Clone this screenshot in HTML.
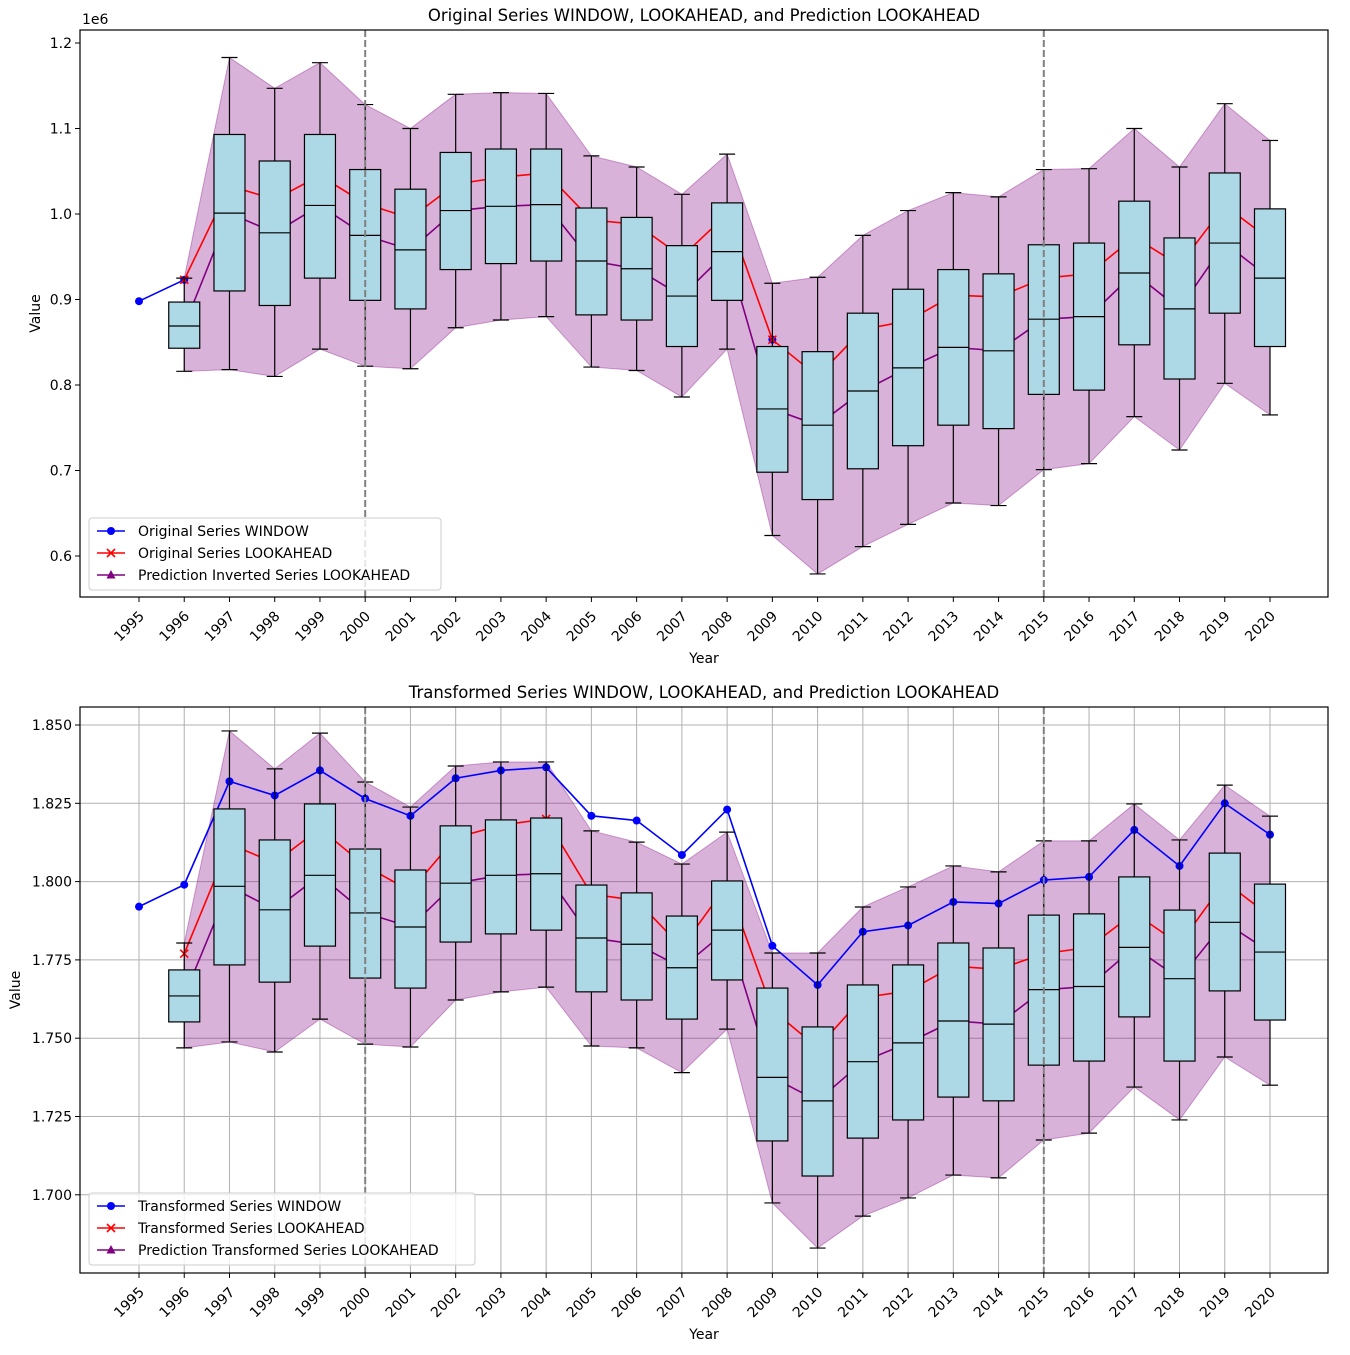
<!DOCTYPE html>
<html><head><meta charset="utf-8"><style>
body{margin:0;background:#fff;font-family:"Liberation Sans","DejaVu Sans",sans-serif}
svg text{font-family:"DejaVu Sans","Liberation Sans",sans-serif}
</style></head><body>
<svg id="c" width="1350" height="1350" viewBox="0 0 1350 1350" xmlns="http://www.w3.org/2000/svg"></svg>
<script>
const years=[1995,1996,1997,1998,1999,2000,2001,2002,2003,2004,2005,2006,2007,2008,2009,2010,2011,2012,2013,2014,2015,2016,2017,2018,2019,2020];
const topWindow=[0.898,0.923];
const topWindowExtra=[[2009,0.853]];
const topLook=[0.923,1.033,1.017,1.045,1.012,0.995,1.035,1.043,1.048,0.993,0.988,0.950,1.0,0.853,0.81,0.865,0.875,0.905,0.903,0.925,0.930,0.973,0.940,1.010,0.970];
const topMed=[0.869,1.001,0.978,1.010,0.975,0.958,1.004,1.009,1.011,0.945,0.936,0.904,0.956,0.772,0.753,0.793,0.820,0.844,0.840,0.877,0.880,0.931,0.889,0.966,0.925];
const topQ1=[0.843,0.910,0.893,0.925,0.899,0.889,0.935,0.942,0.945,0.882,0.876,0.845,0.899,0.698,0.666,0.702,0.729,0.753,0.749,0.789,0.794,0.847,0.807,0.884,0.845];
const topQ3=[0.897,1.093,1.062,1.093,1.052,1.029,1.072,1.076,1.076,1.007,0.996,0.963,1.013,0.845,0.839,0.884,0.912,0.935,0.930,0.964,0.966,1.015,0.972,1.048,1.006];
const topLo=[0.816,0.818,0.810,0.842,0.822,0.819,0.867,0.876,0.880,0.821,0.817,0.786,0.842,0.624,0.579,0.611,0.637,0.662,0.659,0.701,0.708,0.763,0.724,0.802,0.765];
const topHi=[0.925,1.183,1.147,1.177,1.128,1.100,1.140,1.142,1.141,1.068,1.055,1.023,1.070,0.919,0.926,0.975,1.004,1.025,1.020,1.052,1.053,1.100,1.055,1.129,1.086];
const topTicks=[0.6,0.7,0.8,0.9,1.0,1.1,1.2];
const topTickLabels=["0.6","0.7","0.8","0.9","1.0","1.1","1.2"];
const botWindow=[1.792,1.799,1.832,1.8275,1.8355,1.8265,1.821,1.833,1.8355,1.8365,1.821,1.8195,1.8085,1.823,1.7795,1.767,1.784,1.786,1.7935,1.793,1.8005,1.8015,1.8165,1.805,1.825,1.815];
const botLook=[1.777,1.812,1.806,1.817,1.805,1.797,1.814,1.818,1.820,1.796,1.794,1.779,1.799,1.759,1.747,1.763,1.765,1.773,1.772,1.777,1.779,1.790,1.780,1.800,1.789];
const botMed=[1.7635,1.7985,1.791,1.802,1.790,1.7855,1.7995,1.802,1.8025,1.782,1.780,1.7725,1.7845,1.7375,1.730,1.7425,1.7485,1.7555,1.7545,1.7655,1.7665,1.779,1.769,1.787,1.7775];
const botQ1=[1.7552,1.7734,1.7679,1.7794,1.7692,1.766,1.7807,1.7833,1.7845,1.7648,1.7622,1.7561,1.7686,1.7172,1.706,1.7181,1.7239,1.7312,1.730,1.7414,1.7427,1.7568,1.7427,1.7651,1.7558];
const botQ3=[1.7718,1.8232,1.8133,1.8248,1.8104,1.8037,1.8178,1.8197,1.8203,1.7989,1.7964,1.789,1.8002,1.766,1.7536,1.767,1.7734,1.7804,1.7788,1.7893,1.7897,1.8015,1.7909,1.8091,1.7992];
const botLo=[1.7469,1.7488,1.7456,1.7561,1.7481,1.7472,1.7622,1.7648,1.7663,1.7475,1.7469,1.739,1.7529,1.6974,1.683,1.6932,1.699,1.7063,1.7054,1.7175,1.7197,1.7344,1.7239,1.744,1.735];
const botHi=[1.7804,1.8481,1.836,1.8474,1.8318,1.8238,1.8369,1.8382,1.8382,1.8162,1.8126,1.8056,1.8158,1.7772,1.7772,1.7919,1.7983,1.805,1.8031,1.813,1.813,1.8248,1.8133,1.8308,1.8209];
const botTicks=[1.700,1.725,1.750,1.775,1.800,1.825,1.850];
const botTickLabels=["1.700","1.725","1.750","1.775","1.800","1.825","1.850"];

const svg=document.getElementById('c');
const NS='http://www.w3.org/2000/svg';
function mk(tag,attrs,parent,txt){const e=document.createElementNS(NS,tag);for(const k in attrs)e.setAttribute(k,attrs[k]);if(txt!==undefined)e.textContent=txt;(parent||svg).appendChild(e);return e;}
const xScale=yr=>139+(yr-1995)*45.24;

function panel(o){
  const g=mk('g',{});
  
  
  const y=v=>o.y0+(o.v1-v)*o.k;
  const L=80,R=1328,T=o.T,B=o.B;
  if(o.grid){
    years.forEach(yr=>{const l=mk('line',{x1:xScale(yr),x2:xScale(yr),y1:T,y2:B,stroke:'#b0b0b0','stroke-width':1},g);});
    o.ticks.forEach(t=>{const l=mk('line',{x1:L,x2:R,y1:y(t),y2:y(t),stroke:'#b0b0b0','stroke-width':1},g);});
  }
  const ly=years.slice(1);
  let pts=ly.map((yr,i)=>xScale(yr)+','+y(o.hi[i])).concat(ly.slice().reverse().map((yr,j)=>xScale(yr)+','+y(o.lo[ly.length-1-j])));
  const band=mk('polygon',{points:pts.join(' '),fill:'rgba(128,0,128,0.3)',stroke:'rgba(128,0,128,0.35)','stroke-width':1},g);
  
  
  function series(xs,vals,color,marker,name){
    const sg=mk('g',{},g);
    
    
    mk('polyline',{points:vals.map((v,i)=>xScale(xs[i])+','+y(v)).join(' '),fill:'none',stroke:color,'stroke-width':1.6},sg);
    vals.forEach((v,i)=>drawMarker(sg,xScale(xs[i]),y(v),color,marker));
  }
  series(years.slice(0,o.win.length),o.win,'#0000ff','o','window-series');
  if(o.winExtra)o.winExtra.forEach(p=>drawMarker(g,xScale(p[0]),y(p[1]),'#0000ff','o'));
  series(ly,o.look,'#ff0000','x','lookahead-series');
  series(ly,o.med,'#800080','^','prediction-series');
  ly.forEach((yr,i)=>{
    const bx=mk('g',{},g);
    
    
    const x=xScale(yr),w=15.5;
    mk('line',{x1:x,x2:x,y1:y(o.hi[i]),y2:y(o.q3[i]),stroke:'#000','stroke-width':1.2},bx);
    mk('line',{x1:x,x2:x,y1:y(o.q1[i]),y2:y(o.lo[i]),stroke:'#000','stroke-width':1.2},bx);
    mk('line',{x1:x-8,x2:x+8,y1:y(o.hi[i]),y2:y(o.hi[i]),stroke:'#000','stroke-width':1.2},bx);
    mk('line',{x1:x-8,x2:x+8,y1:y(o.lo[i]),y2:y(o.lo[i]),stroke:'#000','stroke-width':1.2},bx);
    mk('rect',{x:x-w,y:y(o.q3[i]),width:2*w,height:y(o.q1[i])-y(o.q3[i]),fill:'#add8e6',stroke:'#000','stroke-width':1.2},bx);
    mk('line',{x1:x-w,x2:x+w,y1:y(o.med[i]),y2:y(o.med[i]),stroke:'#000','stroke-width':1.2},bx);
  });
  [2000,2015].forEach(yr=>{const l=mk('line',{x1:xScale(yr),x2:xScale(yr),y1:T,y2:B,stroke:'#808080','stroke-width':2,'stroke-dasharray':'7,3'},g);});
  const fr=mk('rect',{x:L,y:T,width:R-L,height:B-T,fill:'none',stroke:'#000','stroke-width':1.2},g);
  
  o.ticks.forEach((t,i)=>{
    mk('line',{x1:L-5,x2:L,y1:y(t),y2:y(t),stroke:'#000'},g);
    const tl=mk('text',{x:L-8,y:y(t)+5,'text-anchor':'end','font-size':14},g,o.tickLabels[i]);
    
  });
  years.forEach(yr=>{
    const x=xScale(yr);
    mk('line',{x1:x,x2:x,y1:B,y2:B+5,stroke:'#000'},g);
    const tl=mk('text',{x:x+6,y:B+20,'text-anchor':'end','font-size':14,transform:`rotate(-45 ${x+6} ${B+20})`},g,String(yr));
    
  });
  const tt=mk('text',{x:704,y:T-9,'text-anchor':'middle','font-size':16.5},g,o.title);
  
  const xl=mk('text',{x:704,y:B+66,'text-anchor':'middle','font-size':14},g,'Year');
  
  const yl=mk('text',{x:o.ylx,y:(T+B)/2,'text-anchor':'middle','font-size':14,transform:`rotate(-90 ${o.ylx} ${(T+B)/2})`},g,'Value');
  
  if(o.offset){const ot=mk('text',{x:82,y:T-6,'font-size':14},g,o.offset);}
  const lg=mk('g',{},g);
  
  
  mk('rect',{x:89,y:o.legY,width:o.legW,height:72,rx:3,fill:'rgba(255,255,255,0.8)',stroke:'#ccc'},lg);
  const items=[['#0000ff','o'],['#ff0000','x'],['#800080','^']];
  items.forEach((it,i)=>{
    const yy=o.legY+13+i*22;
    const le=mk('g',{},lg);
    
    
    mk('line',{x1:97,x2:125,y1:yy,y2:yy,stroke:it[0],'stroke-width':1.6},le);
    drawMarker(le,111,yy,it[0],it[1]);
    mk('text',{x:138,y:yy+5,'font-size':14},le,o.legend[i]);
  });
}
function drawMarker(p,x,y,c,m){
  if(m==='o')mk('circle',{cx:x,cy:y,r:4,fill:c},p);
  else if(m==='x'){mk('path',{d:`M${x-4} ${y-4}L${x+4} ${y+4}M${x-4} ${y+4}L${x+4} ${y-4}`,stroke:c,'stroke-width':1.6},p);}
  else mk('polygon',{points:`${x},${y-5} ${x-4.5},${y+3.5} ${x+4.5},${y+3.5}`,fill:c},p);
}
panel({name:'top-chart',T:30,B:597,y0:43,v1:1.2,k:855,grid:false,ticks:topTicks,tickLabels:topTickLabels,
  win:topWindow,winExtra:topWindowExtra,look:topLook,med:topMed,q1:topQ1,q3:topQ3,lo:topLo,hi:topHi,
  title:'Original Series WINDOW, LOOKAHEAD, and Prediction LOOKAHEAD',ylx:40,offset:'1e6',legY:518,legW:352,
  legend:['Original Series WINDOW','Original Series LOOKAHEAD','Prediction Inverted Series LOOKAHEAD']});
panel({name:'bottom-chart',T:707,B:1273,y0:725,v1:1.85,k:3132,grid:true,ticks:botTicks,tickLabels:botTickLabels,
  win:botWindow,look:botLook,med:botMed,q1:botQ1,q3:botQ3,lo:botLo,hi:botHi,
  title:'Transformed Series WINDOW, LOOKAHEAD, and Prediction LOOKAHEAD',ylx:20,legY:1193,legW:386,
  legend:['Transformed Series WINDOW','Transformed Series LOOKAHEAD','Prediction Transformed Series LOOKAHEAD']});
</script>
</body></html>
